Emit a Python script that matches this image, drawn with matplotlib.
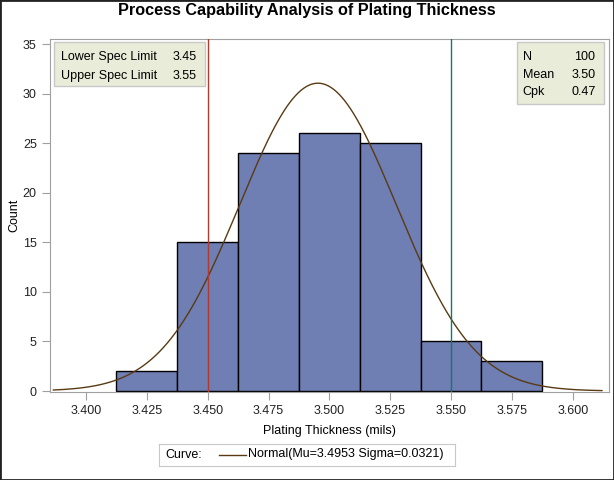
import matplotlib
matplotlib.use("Agg")
import matplotlib.pyplot as plt
from matplotlib.patches import Rectangle
from matplotlib.lines import Line2D
import numpy as np

plt.rcParams['font.family'] = ['Liberation Sans', 'DejaVu Sans']

# данные
bin_centers = [3.425, 3.450, 3.475, 3.500, 3.525, 3.550, 3.575]
counts = [2, 15, 24, 26, 25, 5, 3]
bin_width = 0.025
n_obs = 100
mu = 3.4953
sigma = 0.0321
lsl = 3.45
usl = 3.55
mean_txt = "3.50"
cpk_txt = "0.47"
xticks = [3.400, 3.425, 3.450, 3.475, 3.500, 3.525, 3.550, 3.575, 3.600]

BAR = "#6F7EB3"
CURVE = "#5A3A14"
LSL_C = "#B03A2E"
USL_C = "#0E7C6B"
BOX = "#E9ECD8"
GRAY = "#A0A0A0"

W, H = 614, 480


def fx(px):
    return px / W


def fy(py):
    return 1 - py / H


fig = plt.figure(figsize=(6.14, 4.8), dpi=100)
fig.patches.append(Rectangle((0, 0), 1, 1, transform=fig.transFigure,
                             fill=False, edgecolor="#222222", lw=2))
ax = fig.add_axes([fx(50), fy(391.5), fx(609) - fx(50), fy(39.3) - fy(391.5)])

ax.bar(bin_centers, counts, width=bin_width, color=BAR, edgecolor="black", lw=1, zorder=2)

xs = np.linspace(3.3866, 3.612, 400)
ys = n_obs * bin_width / (sigma * np.sqrt(2 * np.pi)) * np.exp(-0.5 * ((xs - mu) / sigma) ** 2)
ax.plot(xs, ys, color=CURVE, lw=1, zorder=3)

ax.axvline(lsl, color=LSL_C, lw=1, zorder=4)
ax.axvline(usl, color=USL_C, lw=1, zorder=4)

ax.set_xlim(3.3852, 3.6149)
ax.set_ylim(-0.05, 35.5)
ax.set_xticks(xticks)
ax.set_xticklabels([f"{t:.3f}" for t in xticks])
ax.set_yticks(range(0, 36, 5))
for s in ax.spines.values():
    s.set_color(GRAY)
ax.tick_params(labelcolor="#222222", labelsize=9, length=6, color=GRAY)
ax.set_xlabel("Plating Thickness (mils)", fontsize=9, labelpad=6)

fig.text(fx(14), fy(215), "Count", rotation=90, fontsize=9, ha="center", va="center")
fig.text(fx(307), fy(10.5), "Process Capability Analysis of Plating Thickness",
         fontsize=11.7, fontweight="bold", ha="center", va="center")


# вставки
def inset(x0, y0, x1, y1, rows, row_y, lab_x, val_x):
    fig.patches.append(Rectangle((fx(x0), fy(y1)), fx(x1) - fx(x0), fy(y0) - fy(y1),
                                 transform=fig.transFigure, facecolor=BOX,
                                 edgecolor="#C8C8C8", lw=1, zorder=5))
    for (lab, val), yy in zip(rows, row_y):
        fig.text(fx(lab_x), fy(yy), lab, fontsize=9, va="center", zorder=6)
        fig.text(fx(val_x), fy(yy), val, fontsize=9, va="center", ha="right", zorder=6)


inset(54, 42.3, 204.7, 86,
      [("Lower Spec Limit", f"{lsl:.2f}"), ("Upper Spec Limit", f"{usl:.2f}")],
      [57, 75.7], 61.3, 197)
inset(517.3, 42.3, 603.5, 104.3,
      [("N", str(n_obs)), ("Mean", mean_txt), ("Cpk", cpk_txt)],
      [57.5, 75, 92], 522.7, 595.5)

# легенда
leg_ax = fig.add_axes([fx(159), fy(466), fx(455) - fx(159), fy(443.5) - fy(466)])
leg_ax.set_xlim(159, 455)
leg_ax.set_ylim(466, 443.5)
leg_ax.set_xticks([])
leg_ax.set_yticks([])
for s in leg_ax.spines.values():
    s.set_color("#C8C8C8")
leg_ax.text(165, 454.5, "Curve:", fontsize=9, va="center")
leg_ax.add_line(Line2D([219, 246], [454.5, 454.5], color=CURVE, lw=1))
leg_ax.text(248, 454.5, f"Normal(Mu={mu:.4f} Sigma={sigma:.4f})", fontsize=9, va="center")

fig.savefig("out.png", dpi=100)
